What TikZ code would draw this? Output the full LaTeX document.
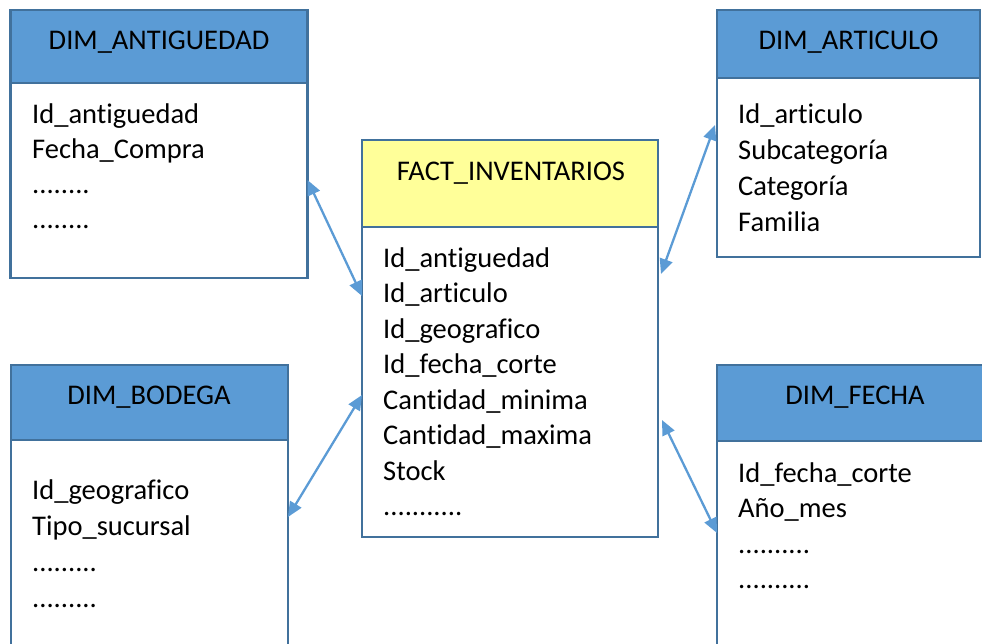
\documentclass[tikz,border=0pt]{standalone}
\usepackage{fontspec}
\setmainfont{Carlito}[Ligatures={NoCommon}]
\usetikzlibrary{arrows.meta}
\definecolor{hdrblue}{HTML}{5B9BD5}
\definecolor{edgeblue}{HTML}{41719C}
\definecolor{factyellow}{HTML}{FFFF99}
\tikzset{
  tablepart/.style={draw=edgeblue, line width=2.1pt, anchor=north west,
    inner sep=0pt, outer sep=0pt, rectangle},
  hdr/.style={tablepart, fill=hdrblue},
  facthdr/.style={tablepart, fill=factyellow},
  tbody/.style={tablepart, fill=white},
  title/.style={anchor=base, inner sep=0pt, font=\fontsize{28.5}{34}\selectfont},
  field/.style={anchor=base west, inner sep=0pt, font=\fontsize{28.5}{34}\selectfont},
  conn/.style={draw=hdrblue, line width=2.3pt,
    {Triangle[length=15pt,width=13pt]}-{Triangle[length=15pt,width=13pt]}}
}
\begin{document}
\begin{tikzpicture}[x=1pt, y=-1pt]
\useasboundingbox (0,0) rectangle (982,643);
\clip (0,0) rectangle (982,643);

% DIM_ANTIGUEDAD
\node[hdr, minimum width=297pt, minimum height=73pt] (anthdr) at (10.5,10) {};
\node[tbody, minimum width=297pt, minimum height=195pt] (antbody) at (10.5,83) {};
\node[title] (anttitle) at (159,49) {DIM\_ANTIGUEDAD};
\node[field] (ant1) at (32,123) {Id\_antiguedad};
\node[field] (ant2) at (32,158) {Fecha\_Compra};
\node[field] (ant3) at (32,193) {........};
\node[field] (ant4) at (32,228) {........};

% DIM_ARTICULO
\node[hdr, minimum width=263pt, minimum height=68pt] (arthdr) at (717,10) {};
\node[tbody, minimum width=263pt, minimum height=179pt] (artbody) at (717,78) {};
\node[title] (arttitle) at (848.5,49) {DIM\_ARTICULO};
\node[field] (art1) at (738,123) {Id\_articulo};
\node[field] (art2) at (738,159) {Subcategoría};
\node[field] (art3) at (738,195) {Categoría};
\node[field] (art4) at (738,231) {Familia};

% FACT_INVENTARIOS
\node[facthdr, minimum width=296pt, minimum height=87pt] (facthdr) at (362,140) {};
\node[tbody, minimum width=296pt, minimum height=310pt] (factbody) at (362,227) {};
\node[title] (facttitle) at (511,180) {FACT\_INVENTARIOS};
\node[field] (fact1) at (383,267) {Id\_antiguedad};
\node[field] (fact2) at (383,302.5) {Id\_articulo};
\node[field] (fact3) at (383,338) {Id\_geografico};
\node[field] (fact4) at (383,373.5) {Id\_fecha\_corte};
\node[field] (fact5) at (383,409) {Cantidad\_minima};
\node[field] (fact6) at (383,444.5) {Cantidad\_maxima};
\node[field] (fact7) at (383,480) {Stock};
\node[field] (fact8) at (383,515.5) {...........};

% DIM_BODEGA
\node[hdr, minimum width=277pt, minimum height=75pt] (bodhdr) at (11,365) {};
\node[tbody, minimum width=277pt, minimum height=230pt] (bodbody) at (11,440) {};
\node[title] (bodtitle) at (149,404) {DIM\_BODEGA};
\node[field] (bod1) at (32,499) {Id\_geografico};
\node[field] (bod2) at (32,535) {Tipo\_sucursal};
\node[field] (bod3) at (32,571) {.........};
\node[field] (bod4) at (32,607) {.........};

% DIM_FECHA
\node[hdr, minimum width=277pt, minimum height=76pt] (fechdr) at (717,365) {};
\node[tbody, minimum width=277pt, minimum height=230pt] (fecbody) at (717,441) {};
\node[title] (fectitle) at (855,404) {DIM\_FECHA};
\node[field] (fec1) at (738,482) {Id\_fecha\_corte};
\node[field] (fec2) at (738,517) {Año\_mes};
\node[field] (fec3) at (738,553) {..........};
\node[field] (fec4) at (738,588) {..........};

% relations between the fact table and the dimensions
\draw[conn] ([yshift=-97pt]antbody.north east) -- ([yshift=-69pt]factbody.north west);
\draw[conn] ([xshift=-2pt,yshift=-47pt]artbody.north west) -- ([xshift=3pt,yshift=-47pt]factbody.north east);
\draw[conn] ([yshift=-168pt]factbody.north west) -- ([yshift=-77pt]bodbody.north east);
\draw[conn] ([xshift=4pt,yshift=-193pt]factbody.north east) -- ([yshift=-92pt]fecbody.north west);
\end{tikzpicture}
\end{document}
